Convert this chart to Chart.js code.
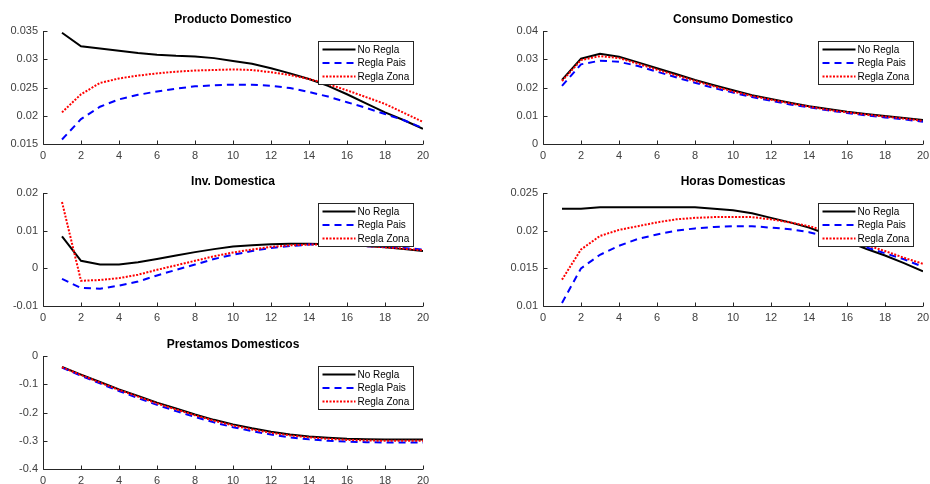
<!DOCTYPE html>
<html>
<head>
<meta charset="utf-8">
<script src="https://cdn.jsdelivr.net/npm/chart.js@4.4.0/dist/chart.umd.min.js"></script>
<style>
  html, body { margin: 0; padding: 0; background: #fff; overflow: hidden; }
  body { width: 930px; height: 484px; position: relative; }
  canvas { position: absolute; }
</style>
</head>
<body>
<canvas id="producto" width="440" height="165" style="left:0px;top:0px"></canvas>
<canvas id="consumo" width="440" height="165" style="left:500px;top:0px"></canvas>
<canvas id="inversion" width="440" height="165" style="left:0px;top:162px"></canvas>
<canvas id="horas" width="440" height="165" style="left:500px;top:162px"></canvas>
<canvas id="prestamos" width="440" height="165" style="left:0px;top:325px"></canvas>
<script>
const periods = [1, 2, 3, 4, 5, 6, 7, 8, 9, 10, 11, 12, 13, 14, 15, 16, 17, 18, 19, 20];
const seriesNames = ['No Regla', 'Regla Pais', 'Regla Zona'];

const productoNoRegla = [0.0347, 0.0323, 0.0319, 0.0315, 0.0311, 0.0308, 0.0306, 0.0305, 0.0302, 0.0297, 0.0292, 0.0284, 0.0275, 0.0265, 0.0253, 0.0238, 0.0222, 0.0206, 0.0192, 0.0177];
const productoPais = [0.0158, 0.0194, 0.0216, 0.0229, 0.0237, 0.0243, 0.0248, 0.0252, 0.0254, 0.0255, 0.0255, 0.0253, 0.0249, 0.0242, 0.0234, 0.0224, 0.0214, 0.0203, 0.0192, 0.0178];
const productoZona = [0.0206, 0.0238, 0.0258, 0.0266, 0.0271, 0.0275, 0.0278, 0.0280, 0.0281, 0.0282, 0.0281, 0.0277, 0.0272, 0.0265, 0.0256, 0.0245, 0.0233, 0.0221, 0.0205, 0.0189];

const consumoNoRegla = [0.0227, 0.0302, 0.0319, 0.0309, 0.0289, 0.0268, 0.0248, 0.0227, 0.0208, 0.0190, 0.0173, 0.0159, 0.0146, 0.0134, 0.0124, 0.0114, 0.0106, 0.0099, 0.0092, 0.0085];
const consumoPais = [0.0206, 0.0282, 0.0295, 0.0291, 0.0276, 0.0256, 0.0236, 0.0217, 0.0198, 0.0182, 0.0166, 0.0153, 0.0140, 0.0130, 0.0119, 0.0110, 0.0101, 0.0094, 0.0087, 0.0079];
const consumoZona = [0.0223, 0.0297, 0.0311, 0.0304, 0.0284, 0.0263, 0.0243, 0.0223, 0.0204, 0.0186, 0.0170, 0.0157, 0.0144, 0.0132, 0.0121, 0.0112, 0.0104, 0.0097, 0.0090, 0.0082];

const inversionNoRegla = [0.0085, 0.0020, 0.0010, 0.0010, 0.0016, 0.0025, 0.0034, 0.0043, 0.0051, 0.0058, 0.0061, 0.0064, 0.0065, 0.0065, 0.0064, 0.0062, 0.0059, 0.0056, 0.0051, 0.0046];
const inversionPais = [-0.0028, -0.0052, -0.0054, -0.0046, -0.0035, -0.0019, -0.0004, 0.0010, 0.0025, 0.0036, 0.0046, 0.0054, 0.0059, 0.0063, 0.0063, 0.0062, 0.0059, 0.0057, 0.0054, 0.0050];
const inversionZona = [0.0176, -0.0033, -0.0031, -0.0026, -0.0017, -0.0004, 0.0008, 0.0020, 0.0032, 0.0042, 0.0050, 0.0057, 0.0061, 0.0063, 0.0063, 0.0061, 0.0059, 0.0056, 0.0052, 0.0048];

const horasNoRegla = [0.0229, 0.0229, 0.0231, 0.0231, 0.0231, 0.0231, 0.0231, 0.0231, 0.0229, 0.0227, 0.0223, 0.0217, 0.0211, 0.0204, 0.0195, 0.0186, 0.0176, 0.0167, 0.0157, 0.0146];
const horasPais = [0.0104, 0.0150, 0.0168, 0.0180, 0.0189, 0.0195, 0.0200, 0.0203, 0.0205, 0.0206, 0.0206, 0.0204, 0.0202, 0.0198, 0.0192, 0.0185, 0.0178, 0.0170, 0.0162, 0.0152];
const horasZona = [0.0135, 0.0175, 0.0193, 0.0201, 0.0206, 0.0211, 0.0215, 0.0217, 0.0218, 0.0218, 0.0218, 0.0215, 0.0211, 0.0206, 0.0199, 0.0190, 0.0181, 0.0173, 0.0164, 0.0156];

const prestamosNoRegla = [-0.039, -0.066, -0.092, -0.118, -0.141, -0.165, -0.186, -0.207, -0.226, -0.242, -0.256, -0.268, -0.278, -0.285, -0.289, -0.293, -0.295, -0.296, -0.296, -0.296];
const prestamosPais = [-0.041, -0.070, -0.097, -0.124, -0.149, -0.173, -0.195, -0.216, -0.235, -0.252, -0.266, -0.278, -0.288, -0.295, -0.300, -0.303, -0.305, -0.306, -0.306, -0.306];
const prestamosZona = [-0.040, -0.067, -0.094, -0.120, -0.144, -0.168, -0.189, -0.210, -0.229, -0.246, -0.260, -0.272, -0.281, -0.288, -0.293, -0.297, -0.299, -0.300, -0.300, -0.300];

const axisColor = '#262626';
const fontFamily = "'Liberation Sans', Arial, Helvetica, sans-serif";
Chart.defaults.font.family = fontFamily;
Chart.defaults.font.size = 11;
Chart.defaults.color = '#404040';

// line look for each rule: black solid, blue dashed, red dotted
const lineStyles = [
    { color: '#000000', dash: [] },
    { color: '#0000ff', dash: [7, 5] },
    { color: '#ff0000', dash: [2, 1.5] }
];

// inward ticks, axis lines, bold title and boxed legend, drawn the matlab way
const matlabAxes = {
    id: 'matlabAxes',
    afterDraw(chart, args, opts) {
        const ctx = chart.ctx;
        const area = chart.chartArea;
        const xs = chart.scales.x, ys = chart.scales.y;
        ctx.save();
        ctx.strokeStyle = axisColor;
        ctx.lineWidth = 1;
        ctx.setLineDash([]);
        ctx.beginPath();
        const left = Math.round(area.left) + 0.5;
        const bottom = Math.round(area.bottom) + 0.5;
        ctx.moveTo(left, Math.round(area.top));
        ctx.lineTo(left, bottom);
        ctx.lineTo(Math.round(area.right), bottom);
        for (const t of xs.ticks) {
            const px = Math.round(xs.getPixelForValue(t.value)) + 0.5;
            ctx.moveTo(px, bottom);
            ctx.lineTo(px, bottom - 4);
        }
        for (const t of ys.ticks) {
            const py = Math.round(ys.getPixelForValue(t.value)) + 0.5;
            ctx.moveTo(left, py);
            ctx.lineTo(left + 4, py);
        }
        ctx.stroke();

        ctx.fillStyle = '#000';
        ctx.font = 'bold 12px ' + fontFamily;
        ctx.textAlign = 'center';
        ctx.textBaseline = 'middle';
        ctx.fillText(opts.title, (area.left + area.right) / 2, area.top - 11);

        // legend box in the upper right corner
        const bw = 95, bh = 43;
        const bx = Math.round(area.right - 10 - bw) + 0.5;
        const by = Math.round(area.top + 10) + 0.5;
        ctx.fillStyle = '#fff';
        ctx.fillRect(bx, by, bw, bh);
        ctx.strokeStyle = axisColor;
        ctx.strokeRect(bx, by, bw, bh);
        ctx.font = '10px ' + fontFamily;
        ctx.textAlign = 'left';
        chart.data.datasets.forEach((ds, i) => {
            const yRow = by + 8 + i * 13.5;
            ctx.strokeStyle = ds.borderColor;
            ctx.lineWidth = 2;
            ctx.setLineDash(ds.borderDash);
            ctx.beginPath();
            ctx.moveTo(bx + 4, yRow);
            ctx.lineTo(bx + 37, yRow);
            ctx.stroke();
            ctx.fillStyle = '#000';
            ctx.fillText(ds.label, bx + 39, yRow + 0.5);
        });
        ctx.restore();
    }
};

function tickText(v) {
    return String(+v.toFixed(6));
}

function makePanel(id, title, series, yMin, yMax, yStep) {
    const datasets = series.map((values, i) => ({
        label: seriesNames[i],
        data: periods.map((p, k) => ({ x: p, y: values[k] })),
        borderColor: lineStyles[i].color,
        borderDash: lineStyles[i].dash,
        borderWidth: 2,
        pointRadius: 0,
        tension: 0,
        fill: false,
        order: 3 - i
    }));
    return new Chart(document.getElementById(id), {
        type: 'line',
        data: { datasets },
        options: {
            responsive: false,
            animation: false,
            layout: { padding: { top: 31, right: 17, left: 0, bottom: 0 } },
            plugins: {
                legend: { display: false },
                tooltip: { enabled: false },
                matlabAxes: { title }
            },
            scales: {
                x: {
                    type: 'linear',
                    min: 0,
                    max: 20,
                    ticks: { stepSize: 2, padding: 5, maxRotation: 0 },
                    grid: { display: false, drawTicks: false },
                    border: { display: false },
                    afterFit(scale) { scale.height = 21; }
                },
                y: {
                    min: yMin,
                    max: yMax,
                    ticks: { stepSize: yStep, padding: 5, callback: tickText },
                    grid: { display: false, drawTicks: false },
                    border: { display: false },
                    afterFit(scale) { scale.width = 43; }
                }
            }
        },
        plugins: [matlabAxes]
    });
}

makePanel('producto', 'Producto Domestico', [productoNoRegla, productoPais, productoZona], 0.015, 0.035, 0.005);
makePanel('consumo', 'Consumo Domestico', [consumoNoRegla, consumoPais, consumoZona], 0, 0.04, 0.01);
makePanel('inversion', 'Inv. Domestica', [inversionNoRegla, inversionPais, inversionZona], -0.01, 0.02, 0.01);
makePanel('horas', 'Horas Domesticas', [horasNoRegla, horasPais, horasZona], 0.01, 0.025, 0.005);
makePanel('prestamos', 'Prestamos Domesticos', [prestamosNoRegla, prestamosPais, prestamosZona], -0.4, 0, 0.1);
</script>
</body>
</html>
